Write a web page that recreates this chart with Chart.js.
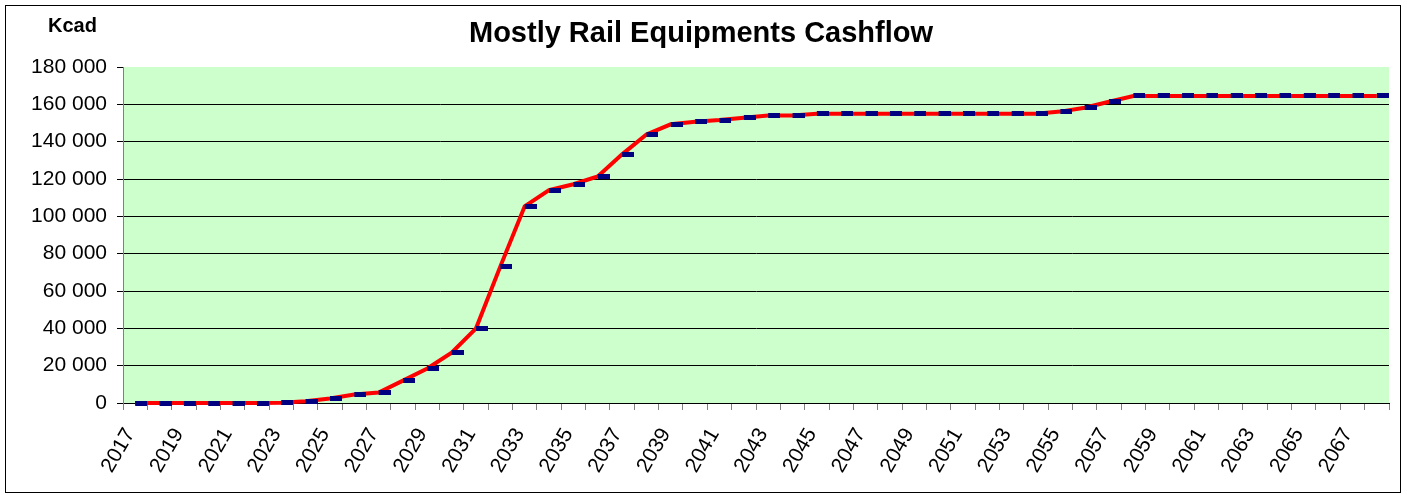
<!DOCTYPE html>
<html><head><meta charset="utf-8">
<script src="https://cdn.jsdelivr.net/npm/chart.js@4"></script>
<style>html,body{margin:0;padding:0;background:#fff;} canvas{display:block;}</style>
</head><body>
<canvas id="c" width="1407" height="495"></canvas>
<script>
const categories = ['2017','2018','2019','2020','2021','2022','2023','2024','2025','2026',
  '2027','2028','2029','2030','2031','2032','2033','2034','2035','2036',
  '2037','2038','2039','2040','2041','2042','2043','2044','2045','2046',
  '2047','2048','2049','2050','2051','2052','2053','2054','2055','2056',
  '2057','2058','2059','2060','2061','2062','2063','2064','2065','2066',
  '2067','2068'];
const cashflow = [0,0,0,0,0,0,200,1000,2400,4500,
  5600,12000,18500,27000,40000,73200,105400,114000,117200,121400,
  133200,143900,149300,150700,151600,152800,154000,154000,155000,155000,
  155000,155000,155000,155000,155000,155000,155000,155000,156100,158200,
  161400,164500,164500,164500,164500,164500,164500,164500,164500,164500,
  164500,164500];
const tickLabels = ['2017','2019','2021','2023','2025','2027','2029','2031','2033','2035',
  '2037','2039','2041','2043','2045','2047','2049','2051','2053','2055',
  '2057','2059','2061','2063','2065','2067'];
const yMin = 0, yMax = 180000, yStep = 20000;
const chartTitle = 'Mostly Rail Equipments Cashflow';
const unitLabel = 'Kcad';

const FONT = "'Liberation Sans', Arial, sans-serif";

function fmt(v) { return String(v).replace(/\B(?=(\d{3})+(?!\d))/g, ' '); }

function makeDash() {
  const c = document.createElement('canvas');
  c.width = 24; c.height = 5;
  const g = c.getContext('2d');
  g.fillStyle = '#000080';
  g.fillRect(12, 0, 12, 5);
  return c;
}

const decor = {
  id: 'decor',
  beforeDraw(chart) {
    const { ctx, chartArea: a } = chart;
    ctx.save();
    ctx.fillStyle = '#ffffff';
    ctx.fillRect(0, 0, chart.width, chart.height);
    ctx.fillStyle = '#CCFFCC';
    ctx.fillRect(a.left, a.top, a.right - a.left, a.bottom - a.top);
    ctx.restore();
  },
  afterDraw(chart) {
    const { ctx } = chart;
    ctx.save();
    ctx.fillStyle = '#000';
    ctx.textBaseline = 'alphabetic';
    ctx.textAlign = 'center';
    ctx.font = 'bold 29px ' + FONT;
    ctx.fillText(chartTitle, 701, 42);
    ctx.textAlign = 'left';
    ctx.font = 'bold 20px ' + FONT;
    ctx.fillText(unitLabel, 48, 32);
    ctx.strokeStyle = '#000';
    ctx.lineWidth = 1;
    ctx.strokeRect(5.5, 5.5, 1395, 487);
    ctx.restore();
  }
};

new Chart(document.getElementById('c'), {
  type: 'line',
  data: {
    labels: categories,
    datasets: [{
      data: cashflow,
      borderColor: '#FF0000',
      borderWidth: 4,
      tension: 0,
      pointStyle: makeDash(),
      pointRadius: 6,
      pointBorderWidth: 0,
      pointBackgroundColor: '#000080',
      clip: false
    }]
  },
  options: {
    responsive: false,
    animation: false,
    devicePixelRatio: 1,
    events: [],
    layout: { padding: { top: 67, left: 0, right: 18, bottom: 0 } },
    plugins: { legend: { display: false }, tooltip: { enabled: false }, title: { display: false } },
    scales: {
      x: {
        type: 'category',
        offset: true,
        grid: { offset: true, drawOnChartArea: false, drawTicks: true, tickLength: 7, color: '#808080', tickColor: '#808080' },
        border: { display: true, color: '#000', width: 1 },
        ticks: {
          autoSkip: false, minRotation: 60, maxRotation: 60, padding: 14, labelOffset: -5,
          color: '#000', font: { family: FONT, size: 21 },
          callback(v) { const l = this.getLabelForValue(v); return tickLabels.includes(l) ? l : ''; }
        },
        afterFit(s) { s.height = 92; s.paddingLeft = 0; s.paddingRight = 0; }
      },
      y: {
        min: yMin, max: yMax,
        ticks: { stepSize: yStep, padding: 10, color: '#000', font: { family: FONT, size: 21 }, callback: v => fmt(v) },
        grid: {
          color: c => (c.tick && c.tick.value === yMax) ? 'rgba(0,0,0,0)' : '#000',
          tickColor: '#000', tickLength: 6, lineWidth: 1
        },
        border: { display: true, color: '#808080', width: 1 },
        afterFit(s) { s.width = 123; s.paddingTop = 0; s.paddingBottom = 0; }
      }
    }
  },
  plugins: [decor]
});
</script>
</body></html>
